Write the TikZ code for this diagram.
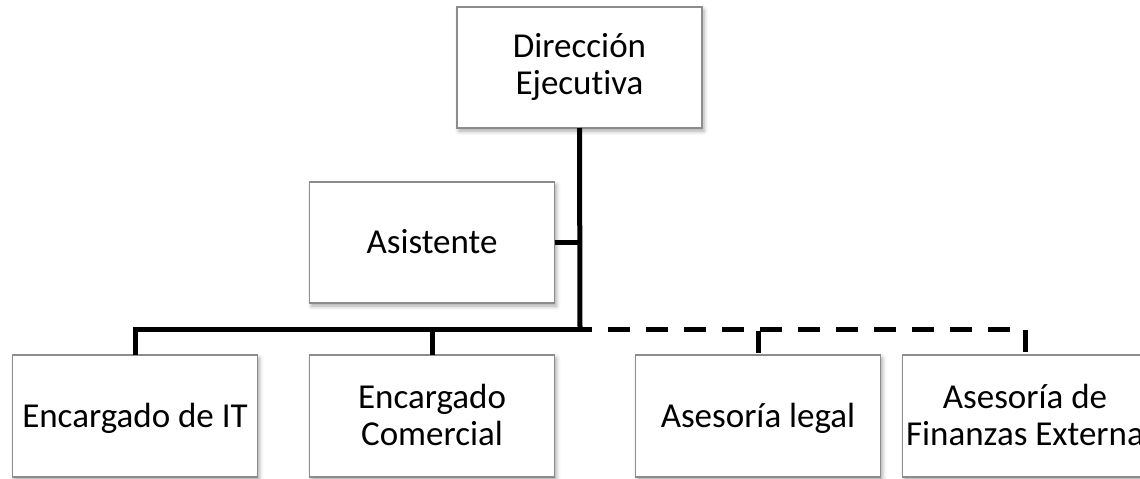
\documentclass[tikz,border=0pt]{standalone}
\usepackage{fontspec}
\setmainfont{Carlito}[Ligatures=NoCommon]
\usetikzlibrary{shadows.blur}
\begin{document}
\begin{tikzpicture}[x=1pt,y=-1pt,
  orgbox/.style={draw=black!45, line width=1.2pt, fill=white, rectangle,
    minimum width=245pt, minimum height=121pt, inner sep=0pt, outer sep=0pt,
    align=center, font=\fontsize{35}{37}\selectfont,
    blur shadow={shadow xshift=2pt, shadow yshift=-3pt, shadow blur radius=4pt, shadow opacity=35}},
  oneline/.style={text height=22.5pt, text depth=0pt},
  twoline/.style={text height=59.5pt, text depth=0pt},
  conn/.style={line width=5pt, line join=miter, line cap=butt},
  dashconn/.style={conn, dash pattern=on 22pt off 16pt, dash phase=10pt}]
\useasboundingbox (0,0) rectangle (1140,479);
\clip (0,0) rectangle (1140,479);
\node[orgbox, twoline, text height=53.5pt] (dir) at (579.5,67.5) {Dirección\\Ejecutiva};
\node[orgbox, oneline] (asis) at (432,242.5) {Asistente};
\node[orgbox, oneline, minimum height=122pt] (it) at (135,416) {Encargado de IT};
\node[orgbox, twoline, minimum height=122pt] (com) at (432,416) {Encargado\\Comercial};
\node[orgbox, oneline, minimum height=122pt] (legal) at (758,416) {Asesoría legal};
\node[orgbox, twoline, minimum height=122pt] (fin) at (1025,416) {Asesoría de\\Finanzas Externa};
\coordinate (bus) at (580,329);
\draw[conn] (dir.south) -- (bus);
\draw[conn] (asis.east) -- (asis.east -| dir.south);
\draw[conn] (bus) -| (it.north);
\draw[conn] (bus) -| (com.north);
\draw[dashconn] (bus) -| (legal.north);
\draw[dashconn] (bus) -| (fin.north);
\end{tikzpicture}
\end{document}
